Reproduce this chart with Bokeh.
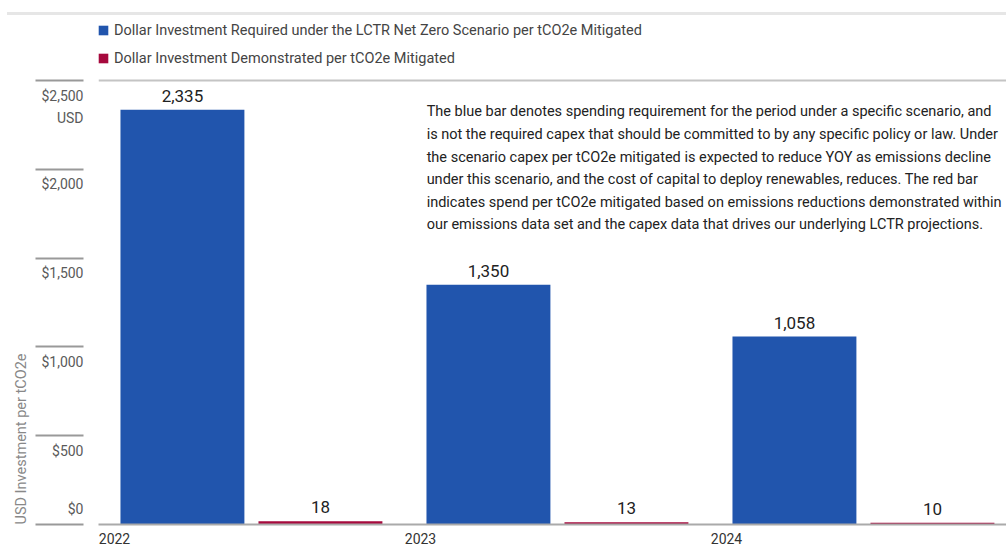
from bokeh.plotting import figure
from bokeh.layouts import column
from bokeh.models import (ColumnDataSource, FixedTicker, Range1d, Span, Label,
                          Title, Legend, Div)
from bokeh.core.properties import value
from bokeh.embed import file_html
from bokeh.resources import INLINE

# ---- data ----
years = ["2022", "2023", "2024"]
required = [2335, 1350, 1058]
demonstrated = [18, 13, 10]
y_ticks = [0, 500, 1000, 1500, 2000, 2500]
series_names = ["Dollar Investment Required under the LCTR Net Zero Scenario per tCO2e Mitigated",
                "Dollar Investment Demonstrated per tCO2e Mitigated"]
note = ("The blue bar denotes spending requirement for the period under a specific scenario, and\n"
        "is not the required capex that should be committed to by any specific policy or law. Under\n"
        "the scenario capex per tCO2e mitigated is expected to reduce YOY as emissions decline\n"
        "under this scenario, and the cost of capital to deploy renewables, reduces. The red bar\n"
        "indicates spend per tCO2e mitigated based on emissions reductions demonstrated within\n"
        "our emissions data set and the capex data that drives our underlying LCTR projections.")
y_title = "USD Investment per tCO2e"
unit_label = "USD"

FONT = "Roboto"
BLUE = "#2155AD"
RED = "#A6093D"

idx = list(range(len(years)))
blue_x = [i + 0.222 for i in idx]
red_x = [i + 0.673 for i in idx]
src_b = ColumnDataSource(dict(x=blue_x, top=required, lab=[f"{v:,}" for v in required]))
src_r = ColumnDataSource(dict(x=red_x, top=demonstrated, lab=[f"{v:,}" for v in demonstrated]))

p = figure(width=1006, height=534, output_backend="svg", toolbar_location=None,
           x_range=Range1d(-0.0523, 2.915), y_range=Range1d(0, 2860),
           min_border_left=98, min_border_right=0, min_border_top=1, min_border_bottom=25)
p.outline_line_color = None
p.xgrid.visible = False
p.ygrid.visible = False
p.background_fill_color = "white"
p.border_fill_color = "white"

rb = p.vbar(x="x", top="top", width=0.405, source=src_b, color=BLUE, line_color=None)
rr = p.vbar(x="x", top="top", width=0.405, source=src_r, color=RED, line_color=None)

for s in (src_b, src_r):
    p.text(x="x", y="top", text="lab", source=s, text_align="center", text_baseline="bottom",
           y_offset=-8, text_font=value(FONT), text_font_size="17px", text_color="#222222")

# top frame line at 2500
p.add_layout(Span(location=y_ticks[-1], dimension="width", line_color="#C4C4C4", line_width=2))

# y axis: labels sit just below their tick rules; "USD" unit under the top one
lab_pos = [t - 85 if t > 0 else t + 85 for t in y_ticks]
labels = {pos: f"${t:,}" for pos, t in zip(lab_pos, y_ticks)}
usd_pos = y_ticks[-1] - 210
labels[usd_pos] = unit_label
ya = p.yaxis[0]
ya.ticker = FixedTicker(ticks=lab_pos + [usd_pos], minor_ticks=y_ticks)
ya.major_label_overrides = labels
ya.axis_line_color = None
ya.major_tick_line_color = None
ya.major_tick_out = 0
ya.major_tick_in = 0
ya.minor_tick_in = -15
ya.minor_tick_out = 63
ya.minor_tick_line_color = "#999999"
ya.minor_tick_line_width = 2
ya.major_label_standoff = -48
ya.major_label_text_font = FONT
ya.major_label_text_font_size = "14px"
ya.major_label_text_color = "#5A5A5A"

# x axis
xa = p.xaxis[0]
xa.ticker = FixedTicker(ticks=idx)
xa.major_label_overrides = {i: y for i, y in zip(idx, years)}
xa.axis_line_color = "#AAAAAA"
xa.axis_line_width = 2
xa.major_tick_out = 0
xa.major_tick_in = 0
xa.major_tick_line_color = None
xa.minor_tick_line_color = None
xa.major_label_standoff = 8
xa.major_label_text_font = FONT
xa.major_label_text_font_size = "14px"
xa.major_label_text_color = "#333333"

# vertical axis title
p.add_layout(Title(text=y_title, align="left", text_font=FONT, text_font_size="14.5px",
                   text_color="#888888", text_font_style="normal", standoff=18), "left")

# note
p.add_layout(Label(x=1.02, y=2371, text=note, text_align="left", text_baseline="top",
                   text_font=FONT, text_font_size="14.5px", text_color="#222222",
                   text_line_height=1.33))

legend = Legend(items=[(series_names[0], [rb]), (series_names[1], [rr])],
                location=(-1, 456), orientation="vertical", padding=0, margin=0,
                spacing=8, glyph_width=12, glyph_height=12, label_height=20,
                label_standoff=5, border_line_color=None, background_fill_alpha=0,
                label_text_font=FONT, label_text_font_size="14.5px", label_text_color="#444444")
p.add_layout(legend)

# top rule of the chart
rule = Div(text="", width=999, height=3, margin=(12, 0, 0, 7),
           styles={"background-color": "#E6E6E6"})

layout = column(rule, p, spacing=0)
open("out.html", "w").write(file_html(layout, INLINE))
